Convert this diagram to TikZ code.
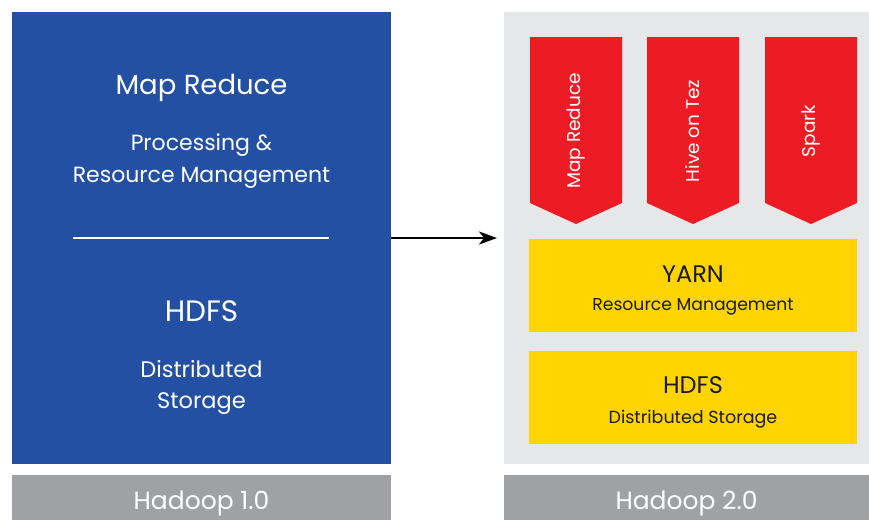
\documentclass[tikz,border=0pt]{standalone}
\usepackage{fontspec}
\setmainfont{Poppins}
\usetikzlibrary{arrows.meta}
\definecolor{hblue}{HTML}{2450A3}
\definecolor{hred}{HTML}{ED1C24}
\definecolor{hyellow}{HTML}{FFD400}
\definecolor{hlight}{HTML}{E6E7E8}
\definecolor{hgray}{HTML}{A0A1A5}
\definecolor{htext}{HTML}{1A1A1A}
\newcommand{\fs}[1]{\fontsize{#1}{#1}\selectfont}
\begin{document}
\begin{tikzpicture}[x=1pt,y=-1pt,
  panel/.style={inner sep=0pt,outer sep=0pt,draw=none},
  wtext/.style={text=white,anchor=base,inner sep=0pt},
  btext/.style={text=htext,anchor=base,inner sep=0pt},
  chevtext/.style={text=white,rotate=90,inner sep=0pt,font=\fs{18.5}}]
\useasboundingbox (0,0) rectangle (869,520);
\fill[white] (0,0) rectangle (869,520);

% panels
\node[panel,fill=hblue,minimum width=379pt,minimum height=452pt] (v1) at (201.5,238) {};
\node[panel,fill=hlight,minimum width=365pt,minimum height=452pt] (v2) at (686.5,238) {};
\node[panel,fill=hgray,minimum width=379pt,minimum height=45pt] (l1) at (201.5,497.5) {};
\node[panel,fill=hgray,minimum width=365pt,minimum height=45pt] (l2) at (686.5,497.5) {};

% left texts
\node[wtext,font=\fs{27.5}] (mr) at (201.5,94) {Map Reduce};
\node[wtext,font=\fs{22}] (pr) at (201.5,150) {Processing \&};
\node[wtext,font=\fs{22}] (rm) at (201.5,182) {Resource Management};
\coordinate (sl) at (73,238);
\coordinate (sr) at (329,238);
\draw[white,line width=2pt] (sl) -- (sr);
\node[wtext,font=\fs{29.5}] (hd) at (201.5,321) {HDFS};
\node[wtext,font=\fs{22.5}] (ds) at (201.5,377) {Distributed};
\node[wtext,font=\fs{22.5}] (st) at (201.5,408) {Storage};

% labels
\node[wtext,font=\fs{25}] (t1) at (201.5,509) {Hadoop 1.0};
\node[wtext,font=\fs{25}] (t2) at (686.5,509) {Hadoop 2.0};

% chevrons
\foreach \xl/\nm/\tx in {530/c1/Map Reduce, 647/c2/Hive on Tez, 765/c3/Spark}{
  \fill[hred] (\xl,37) -- ++(92,0) -- ++(0,166) -- ++(-46,21) -- ++(-46,-21) -- cycle;
  \node[chevtext] (\nm) at ({\xl+46},131) {\tx};
}

% yellow boxes
\node[panel,fill=hyellow,minimum width=328pt,minimum height=93pt] (y1) at (693,285.5) {};
\node[panel,fill=hyellow,minimum width=328pt,minimum height=93pt] (y2) at (693,397.5) {};
\node[btext,font=\fs{24}] (ya) at (693,282) {YARN};
\node[btext,font=\fs{17.2}] (yr) at (693,310) {Resource Management};
\node[btext,font=\fs{24}] (yh) at (693,393) {HDFS};
\node[btext,font=\fs{17.5}] (yd) at (693,423) {Distributed Storage};

% arrow
\draw[-{Stealth[length=18pt,width=13pt,inset=5pt]},line width=2.5pt,shorten >=7pt] (v1.east) -- (v2.west);
\end{tikzpicture}
\end{document}
